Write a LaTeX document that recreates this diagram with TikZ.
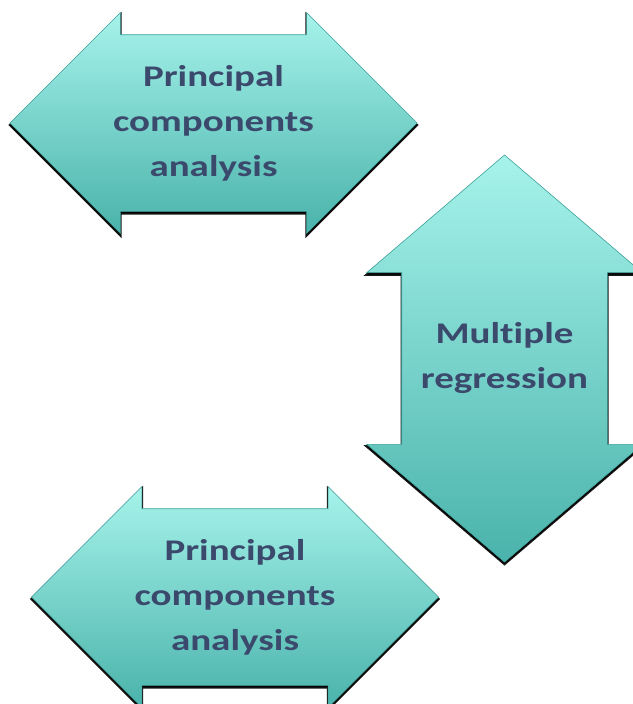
\documentclass[tikz,border=0pt]{standalone}
\usepackage{fontspec}
\newfontfamily\lblfont{Carlito}[FakeStretch=1.3, Ligatures=NoCommon]
\usetikzlibrary{shapes.arrows, shadows}
\definecolor{atop}{HTML}{A6F3EB}
\definecolor{abottom}{HTML}{4AB3AB}
\definecolor{aedge}{HTML}{3FA39C}
\definecolor{alabel}{HTML}{3B4A6C}
\tikzset{
  darrow/.style={double arrow, draw=aedge, line width=0.6pt,
                 top color=atop, bottom color=abottom,
                 drop shadow={shadow xshift=0pt, shadow yshift=-2pt, fill=black,
                              draw=black, line width=2.4pt, opacity=0.9}},
  harrow/.style={darrow, inner xsep=0pt, inner ysep=88pt,
                 minimum height=407pt, minimum width=220pt,
                 double arrow head extend=22pt, double arrow tip angle=90},
  varrow/.style={darrow, shape border rotate=90, inner xsep=102.5pt, inner ysep=0pt,
                 minimum height=407pt, minimum width=275pt,
                 double arrow head extend=35pt, double arrow tip angle=99},
  lbl/.style={text=alabel, align=center, font=\lblfont\bfseries\fontsize{30}{45}\selectfont},
}
\begin{document}
\begin{tikzpicture}[x=1pt, y=-1pt]
  \useasboundingbox (0,0) rectangle (632,704);
  % three double arrows
  \node[harrow] (pca1) at (213.5,123) {};
  \node[varrow] (mreg) at (504.5,358.5) {};
  \node[harrow] (pca2) at (235,597) {};
  % labels
  \node[lbl] (pca1-text) at (pca1) {Principal\\components\\analysis};
  \node[lbl] (mreg-text) at (mreg) {Multiple\\regression};
  \node[lbl] (pca2-text) at (pca2) {Principal\\components\\analysis};
\end{tikzpicture}
\end{document}
